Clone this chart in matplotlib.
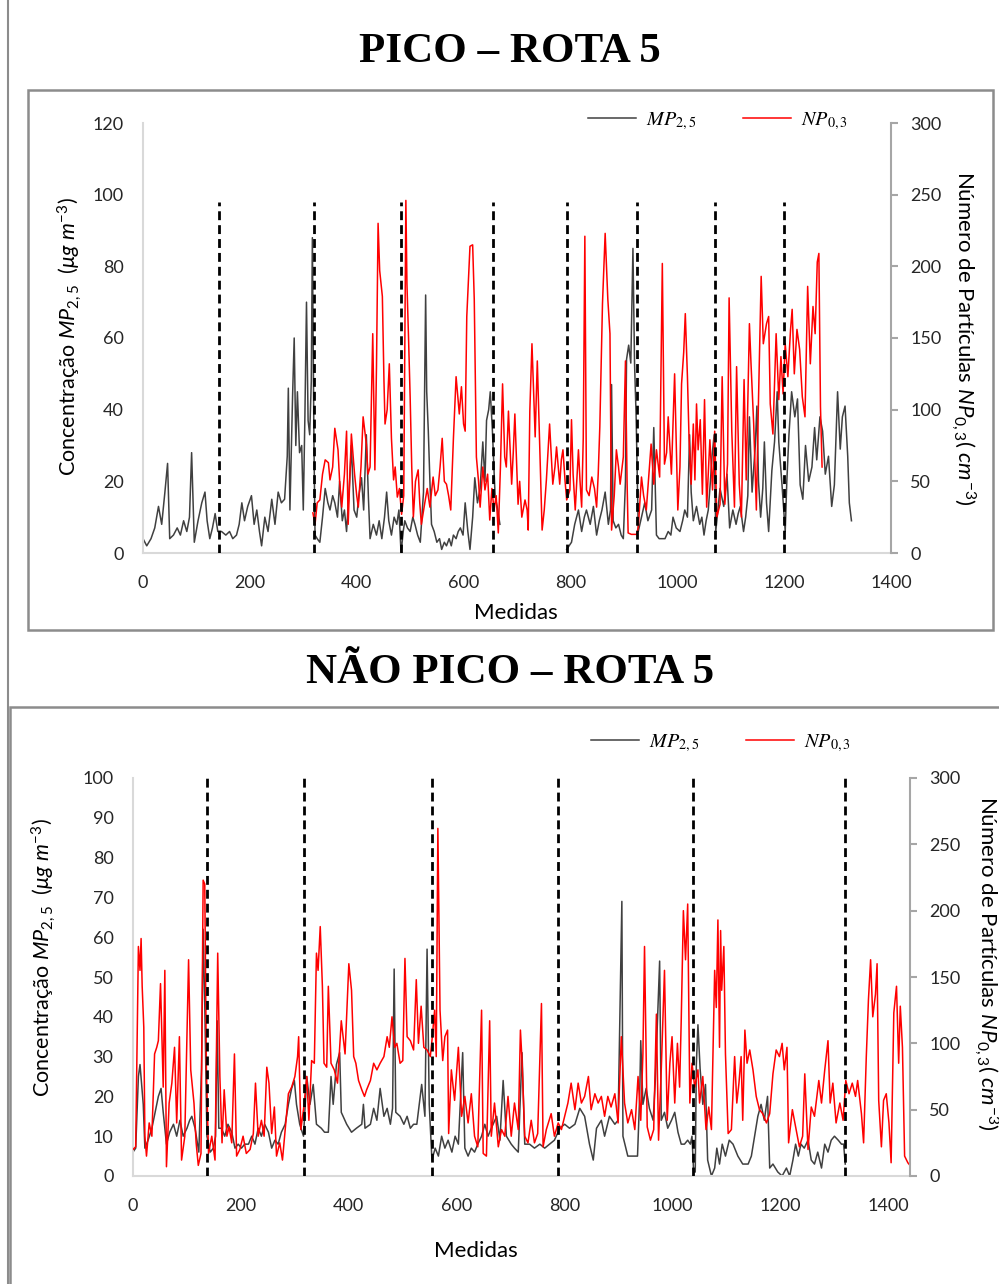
import numpy as np
import matplotlib
matplotlib.use('Agg')
import matplotlib.pyplot as plt
from matplotlib.lines import Line2D
from matplotlib.patches import Rectangle
from matplotlib.font_manager import FontProperties

plt.rcParams['font.family'] = ['Lato', 'DejaVu Sans']
plt.rcParams['mathtext.fontset'] = 'custom'
plt.rcParams['mathtext.rm'] = 'Lato'
plt.rcParams['mathtext.it'] = 'Lato:italic'
plt.rcParams['mathtext.bf'] = 'Lato:bold'

pico_mp = [
    (0, 4), (7, 2), (15, 4), (22, 7), (29, 13), (35, 8), (41, 17), (46, 25), (50, 4), (57, 5),
    (64, 7), (70, 5), (76, 9), (82, 6), (87, 10), (91, 28), (96, 3), (103, 9), (110, 14), (116, 17),
    (120, 9), (125, 4), (130, 7), (135, 11), (140, 6), (147, 6), (155, 5), (162, 6), (168, 4), (175, 5),
    (180, 8), (185, 14), (190, 9), (196, 13), (203, 16), (208, 8), (213, 12), (218, 6), (222, 2), (228, 10),
    (234, 6), (241, 15), (247, 8), (253, 17), (259, 14), (265, 15), (270, 27), (272, 46), (275, 12), (280, 44),
    (283, 60), (286, 30), (289, 45), (293, 28), (297, 30), (300, 12), (303, 38), (306, 70), (309, 37), (312, 33),
    (315, 48), (317, 88), (320, 30), (322, 5), (326, 4), (331, 3), (336, 10), (341, 18), (346, 14), (350, 12),
    (355, 16), (359, 14), (364, 10), (368, 20), (373, 9), (377, 12), (381, 6), (386, 18), (390, 30), (395, 12),
    (400, 10), (404, 16), (409, 21), (413, 12), (418, 33), (422, 15), (425, 4), (431, 8), (437, 5), (442, 9),
    (447, 4), (452, 10), (456, 17), (460, 9), (465, 5), (470, 10), (475, 8), (479, 12), (483, 0), (487, 6),
    (490, 9), (495, 7), (500, 6), (505, 10), (509, 8), (514, 5), (519, 3), (525, 17), (529, 72), (531, 45),
    (534, 34), (537, 20), (540, 8), (545, 6), (550, 3), (555, 4), (559, 1), (564, 3), (568, 2), (573, 4),
    (577, 2), (581, 5), (586, 4), (590, 6), (594, 7), (599, 5), (603, 14), (608, 6), (612, 1), (617, 10),
    (621, 21), (626, 14), (631, 18), (636, 31), (640, 20), (643, 37), (647, 40), (650, 45), (654, 34), (659, 16),
    (664, 12), (668, 8), (730, np.nan),
    (793, 1), (802, 3), (808, 8), (815, 12), (821, 6), (826, 10), (830, 12), (837, 8), (843, 13), (849, 5),
    (854, 9), (859, 12), (865, 17), (871, 8), (875, 12), (877, 47), (880, 9), (885, 7), (890, 8), (895, 5),
    (899, 4), (903, 20), (905, 54), (909, 58), (913, 53), (917, 85), (920, 53), (923, 38), (927, 6), (933, 10),
    (939, 14), (945, 9), (952, 12), (956, 35), (961, 5), (966, 4), (971, 4), (977, 4), (983, 6), (988, 5),
    (992, 10), (998, 7), (1005, 6), (1010, 9), (1014, 12), (1019, 10), (1023, 33), (1026, 17), (1030, 9), (1036, 13),
    (1042, 8), (1046, 10), (1050, 5), (1054, 9), (1058, 12), (1062, 20), (1065, 27), (1069, 33), (1072, 6), (1076, 12),
    (1080, 18), (1087, 13), (1093, 22), (1098, 7), (1104, 12), (1110, 8), (1114, 11), (1118, 13), (1124, 6), (1128, 10),
    (1132, 16), (1135, 38), (1140, 17), (1146, 30), (1149, 41), (1152, 20), (1156, 10), (1160, 18), (1163, 31), (1167, 14),
    (1171, 6), (1177, 23), (1182, 31), (1187, 45), (1190, 31), (1196, 19), (1202, 6), (1205, 20), (1209, 33), (1214, 45),
    (1220, 38), (1225, 43), (1230, 19), (1235, 15), (1240, 30), (1246, 20), (1252, 24), (1257, 35), (1261, 26), (1267, 38),
    (1272, 34), (1277, 22), (1283, 27), (1289, 13), (1294, 19), (1300, 45), (1305, 29), (1309, 38), (1314, 41), (1319, 27),
    (1322, 14), (1326, 9),
]
pico_np = [
    (318, 28), (322, 20), (326, 35), (331, 37), (336, 55), (341, 65), (347, 63), (350, 51), (355, 60), (359, 87),
    (365, 72), (368, 50), (372, 32), (377, 55), (381, 85), (384, 20), (390, 83), (396, 55), (400, 40), (403, 32),
    (408, 60), (412, 95), (418, 76), (421, 55), (425, 60), (430, 153), (434, 58), (437, 130), (440, 230), (443, 197),
    (448, 179), (451, 120), (453, 90), (457, 100), (461, 132), (465, 80), (469, 51), (472, 60), (476, 39), (480, 45),
    (484, 27), (488, 40), (492, 246), (494, 188), (497, 150), (500, 109), (503, 60), (506, 25), (510, 50), (515, 58),
    (518, 35), (521, 20), (527, 34), (532, 45), (537, 32), (543, 53), (547, 40), (552, 44), (556, 60), (560, 80),
    (564, 50), (568, 48), (572, 40), (576, 30), (581, 80), (586, 123), (592, 97), (596, 116), (600, 90), (603, 85),
    (606, 165), (612, 214), (617, 215), (620, 177), (624, 67), (628, 50), (631, 32), (636, 60), (640, 44), (645, 55),
    (649, 23), (653, 45), (657, 30), (661, 40), (665, 14), (669, 60), (673, 118), (677, 67), (680, 60), (684, 99),
    (690, 48), (693, 70), (696, 97), (702, 34), (705, 50), (709, 25), (715, 37), (719, 30), (721, 16), (724, 99),
    (728, 146), (734, 81), (738, 134), (743, 67), (747, 16), (751, 30), (755, 51), (761, 90), (767, 48), (771, 60),
    (774, 74), (780, 48), (783, 65), (786, 72), (790, 50), (793, 37), (799, 44), (802, 93), (805, 55), (809, 30),
    (815, 72), (818, 50), (821, 32), (824, 80), (827, 221), (830, 44), (835, 40), (840, 53), (845, 45), (849, 32),
    (852, 55), (855, 88), (860, 174), (865, 223), (870, 177), (874, 153), (877, 16), (882, 40), (886, 72), (890, 60),
    (893, 48), (899, 67), (903, 134), (906, 50), (908, 14), (914, 13), (919, 13), (924, 13), (927, 18), (933, 53),
    (937, 40), (942, 30), (946, 50), (951, 76), (956, 48), (961, 72), (967, 53), (972, 202), (976, 62), (980, 70),
    (983, 95), (989, 55), (995, 125), (1001, 30), (1005, 60), (1008, 118), (1012, 140), (1015, 167), (1019, 123), (1022, 80),
    (1026, 48), (1030, 90), (1033, 51), (1036, 104), (1039, 72), (1043, 93), (1047, 41), (1051, 107), (1055, 32), (1061, 79),
    (1066, 44), (1070, 85), (1074, 25), (1080, 34), (1084, 123), (1089, 34), (1094, 62), (1097, 178), (1102, 85), (1107, 32),
    (1111, 130), (1116, 48), (1120, 25), (1125, 121), (1129, 51), (1135, 160), (1138, 132), (1143, 90), (1148, 30), (1152, 107),
    (1157, 193), (1161, 146), (1167, 160), (1171, 165), (1174, 104), (1179, 83), (1185, 153), (1190, 107), (1194, 137), (1198, 111),
    (1202, 146), (1207, 123), (1212, 156), (1215, 170), (1219, 125), (1224, 156), (1229, 142), (1234, 109), (1239, 95), (1244, 186),
    (1249, 132), (1254, 172), (1258, 153), (1262, 203), (1265, 209), (1268, 102), (1271, 60),
]
pico_dash = [142, 320, 482, 656, 793, 925, 1071, 1199]

# ---- NAO PICO - ROTA 5 ----
nao_mp = [
    (0, 6), (5, 7), (10, 25), (13, 28), (16, 23), (19, 18), (22, 7), (28, 9), (35, 12), (41, 16),
    (47, 20), (52, 22), (56, 16), (62, 8), (68, 11), (75, 13), (81, 10), (87, 14), (93, 10), (100, 12),
    (105, 14), (109, 15), (115, 12), (122, 6), (127, 27), (130, 62), (133, 43), (137, 10), (143, 6), (149, 7),
    (153, 10), (156, 39), (159, 12), (164, 12), (170, 10), (176, 13), (183, 11), (189, 7), (195, 8), (201, 7),
    (207, 8), (214, 8), (220, 10), (226, 8), (232, 12), (238, 10), (244, 13), (251, 11), (257, 7), (263, 9),
    (269, 8), (275, 11), (282, 13), (288, 18), (294, 22), (299, 24), (303, 18), (309, 13), (316, 10), (322, 25),
    (328, 18), (334, 23), (340, 13), (349, 12), (355, 11), (362, 11), (367, 25), (371, 18), (377, 28), (383, 31),
    (386, 16), (396, 13), (405, 11), (414, 12), (424, 13), (427, 18), (430, 12), (440, 13), (446, 17), (452, 14),
    (458, 22), (465, 15), (471, 17), (477, 13), (481, 17), (484, 52), (487, 16), (495, 15), (502, 13), (508, 15),
    (514, 12), (520, 13), (526, 13), (535, 23), (541, 15), (545, 57), (549, 18), (554, 4), (560, 7), (566, 5),
    (572, 10), (578, 7), (584, 9), (591, 6), (597, 10), (603, 8), (611, 31), (615, 7), (621, 5), (627, 7),
    (633, 6), (639, 8), (646, 10), (652, 13), (658, 10), (664, 12), (674, 15), (680, 9), (686, 24), (692, 10),
    (701, 8), (707, 7), (714, 6), (721, 31), (726, 8), (735, 8), (744, 7), (754, 8), (763, 7), (772, 8),
    (781, 9), (791, 12), (800, 13), (809, 12), (819, 13), (828, 17), (837, 15), (846, 8), (853, 4), (859, 12),
    (868, 14), (874, 10), (883, 15), (893, 13), (899, 14), (906, 69), (908, 10), (917, 5), (927, 5), (935, 5),
    (939, 20), (941, 34), (945, 18), (951, 22), (957, 17), (964, 14), (968, 24), (972, 39), (976, 54), (979, 14),
    (985, 16), (991, 12), (998, 14), (1004, 16), (1010, 11), (1016, 8), (1022, 8), (1028, 9), (1033, 8), (1036, 10),
    (1039, 1), (1042, 1), (1044, 28), (1047, 38), (1051, 27), (1056, 18), (1061, 23), (1065, 4), (1072, 0), (1078, 2),
    (1082, 7), (1087, 3), (1092, 8), (1098, 5), (1105, 9), (1112, 8), (1121, 5), (1130, 3), (1140, 3), (1146, 5),
    (1152, 10), (1158, 15), (1164, 18), (1170, 14), (1176, 20), (1180, 2), (1186, 3), (1195, 1), (1203, 0), (1211, 2),
    (1217, 0), (1223, 4), (1228, 8), (1233, 5), (1238, 8), (1244, 7), (1251, 9), (1257, 4), (1263, 3), (1269, 6),
    (1276, 2), (1282, 8), (1288, 6), (1294, 9), (1300, 10), (1307, 9), (1313, 8), (1317, 8), (1320, 3),
]
nao_np = [
    (0, 20), (5, 22), (10, 173), (13, 155), (15, 179), (17, 143), (20, 112), (22, 30), (25, 15), (30, 40),
    (35, 30), (40, 92), (44, 97), (47, 102), (51, 145), (56, 67), (59, 155), (62, 7), (67, 55), (72, 70),
    (77, 97), (81, 40), (86, 105), (90, 12), (96, 30), (103, 163), (107, 80), (113, 55), (117, 25), (121, 8),
    (126, 17), (130, 223), (133, 220), (136, 80), (140, 17), (146, 30), (152, 12), (157, 168), (161, 75), (165, 25),
    (169, 65), (174, 30), (178, 37), (183, 25), (188, 92), (192, 15), (198, 20), (204, 30), (210, 17), (217, 20),
    (223, 32), (227, 70), (232, 30), (238, 42), (243, 30), (248, 82), (252, 70), (257, 32), (262, 52), (266, 15),
    (272, 25), (277, 12), (282, 35), (288, 62), (294, 67), (300, 75), (305, 90), (307, 105), (311, 35), (316, 50),
    (322, 75), (326, 42), (331, 87), (336, 85), (340, 168), (343, 155), (347, 188), (351, 143), (354, 85), (359, 82),
    (362, 143), (367, 85), (373, 80), (379, 70), (386, 117), (393, 92), (400, 160), (405, 140), (409, 90), (413, 85),
    (418, 72), (424, 65), (429, 60), (433, 65), (440, 72), (446, 85), (452, 80), (458, 85), (465, 90), (471, 105),
    (475, 97), (480, 120), (485, 97), (489, 100), (495, 85), (500, 87), (504, 164), (508, 105), (514, 102), (520, 95),
    (525, 148), (529, 100), (534, 128), (539, 97), (545, 95), (551, 90), (554, 102), (559, 125), (562, 90), (565, 262),
    (569, 125), (574, 87), (578, 105), (583, 110), (585, 32), (590, 80), (596, 57), (603, 97), (609, 45), (615, 60),
    (621, 40), (627, 62), (633, 30), (639, 22), (646, 125), (649, 17), (655, 15), (661, 117), (664, 30), (670, 55),
    (677, 22), (683, 35), (689, 30), (695, 60), (701, 30), (707, 55), (714, 35), (718, 110), (721, 87), (726, 30),
    (732, 25), (738, 42), (744, 25), (750, 32), (757, 130), (760, 22), (766, 35), (775, 47), (781, 30), (788, 40),
    (794, 35), (800, 45), (806, 55), (812, 70), (819, 50), (825, 70), (831, 55), (837, 60), (844, 75), (849, 50),
    (856, 62), (862, 55), (868, 60), (874, 45), (880, 60), (886, 52), (893, 62), (899, 40), (905, 105), (911, 55),
    (917, 40), (924, 50), (930, 35), (936, 75), (941, 42), (945, 92), (948, 173), (953, 37), (959, 27), (965, 35),
    (970, 122), (974, 27), (979, 80), (985, 155), (990, 42), (995, 85), (999, 105), (1004, 55), (1009, 100), (1013, 67),
    (1016, 117), (1020, 200), (1024, 163), (1028, 205), (1032, 55), (1036, 85), (1041, 67), (1047, 80), (1050, 55), (1056, 75),
    (1062, 35), (1067, 52), (1072, 35), (1078, 155), (1081, 127), (1084, 193), (1087, 97), (1089, 185), (1091, 140), (1095, 173),
    (1098, 92), (1103, 32), (1109, 35), (1115, 90), (1119, 55), (1123, 70), (1127, 90), (1130, 42), (1134, 110), (1138, 85),
    (1143, 95), (1149, 80), (1155, 60), (1161, 50), (1167, 47), (1174, 40), (1180, 47), (1186, 77), (1192, 95), (1198, 90),
    (1203, 100), (1207, 80), (1212, 97), (1215, 25), (1222, 50), (1229, 35), (1235, 22), (1241, 30), (1245, 77), (1251, 20),
    (1257, 52), (1263, 45), (1271, 72), (1276, 55), (1282, 80), (1288, 102), (1292, 55), (1297, 70), (1303, 40), (1310, 55),
    (1316, 42), (1321, 72), (1327, 62), (1333, 70), (1339, 60), (1343, 72), (1350, 47), (1354, 25), (1359, 90), (1363, 133),
    (1367, 163), (1371, 120), (1376, 137), (1379, 160), (1382, 57), (1387, 22), (1391, 57), (1396, 62), (1401, 40), (1405, 10),
    (1410, 123), (1415, 143), (1419, 85), (1422, 128), (1426, 97), (1430, 15), (1436, 10), (1440, 8),
]
nao_dash = [137, 317, 554, 788, 1038, 1320]

mp_label = r'Concentração $MP_{2,5}$  $(\mu g\ m^{-3})$'
np_label = r'Número de Partículas $NP_{0,3}$( $cm^{-3}$)'
legend_labels = [r'$MP_{2,5}$', r'$NP_{0,3}$']

W, H = 999, 1284
fig = plt.figure(figsize=(W / 100, H / 100), dpi=100)


def frac_rect(x0, y0, x1, y1):
    return [x0 / W, 1 - y1 / H, (x1 - x0) / W, (y1 - y0) / H]


def draw_panel(rect, mp, nparts, xmax, ymax, yticks, dashes, dash_top):
    mp = np.array(mp, dtype=float)
    nparts = np.array(nparts, dtype=float)
    ax = fig.add_axes(rect)
    ax2 = ax.twinx()
    ax.plot(mp[:, 0], mp[:, 1], color='#404040', lw=1.1)
    ax2.plot(nparts[:, 0], nparts[:, 1], color='#ff0000', lw=1.1)
    ax2.vlines(dashes, 0, dash_top, colors='black', linestyles=(0, (3.2, 1.8)),
               lw=2.0, transform=ax.transData, zorder=5)

    ax.set_xlim(0, xmax)
    ax.set_ylim(0, ymax)
    ax.set_xticks(range(0, 1401, 200))
    ax.set_yticks(yticks)
    ax2.set_ylim(0, 300)
    ax2.set_yticks(range(0, 301, 50))

    for s in ['top', 'right']:
        ax.spines[s].set_visible(False)
    for s in ['left', 'bottom']:
        ax.spines[s].set_color('#d9d9d9')
        ax.spines[s].set_linewidth(1.5)
    for s in ['top', 'left', 'bottom']:
        ax2.spines[s].set_visible(False)
    ax2.spines['right'].set_color('#a6a6a6')
    ax2.spines['right'].set_linewidth(1.5)

    ax.tick_params(axis='both', length=0, labelsize=13, colors='#262626')
    ax.tick_params(axis='x', pad=16)
    ax.tick_params(axis='y', pad=14)
    ax2.tick_params(axis='y', length=5, width=1.5, color='#a6a6a6',
                    labelsize=13, labelcolor='#262626', pad=9)
    return ax, ax2


def draw_legend(x, y):
    handles = [Line2D([], [], color='#404040', lw=1.1), Line2D([], [], color='#ff0000', lw=1.1)]
    fig.legend(handles, legend_labels, loc='center left',
               bbox_to_anchor=(x / W, 1 - y / H), ncol=2, frameon=False,
               handlelength=2.4, handletextpad=0.5, columnspacing=2.3,
               borderpad=0, borderaxespad=0,
               prop=FontProperties(family='DejaVu Serif', size=14.5, math_fontfamily='stix'))


# frames
gray = '#8c8c8c'
fig.add_artist(Line2D([8 / W, 8 / W], [0, 1], color=gray, lw=1.5))
fig.add_artist(Rectangle((28 / W, 1 - 630 / H), (993 - 28) / W, (630 - 90) / H,
                         fill=False, ec=gray, lw=1.8))
fig.add_artist(Rectangle((10 / W, -0.05), 1.0, 1 - 707 / H + 0.05,
                         fill=False, ec=gray, lw=1.8))

# top panel
draw_panel(frac_rect(143, 123, 891, 553), pico_mp, pico_np, 1400, 120,
           range(0, 121, 20), pico_dash, 98)
draw_legend(588, 121)
fig.text(510 / W, 1 - 52 / H, 'PICO – ROTA 5', ha='center', va='center',
         family='Liberation Serif', weight='bold', size=31)
fig.text(70 / W, 1 - 337 / H, mp_label, rotation=90, ha='center', va='center', size=15.5)
fig.text(963 / W, 1 - 338 / H, np_label, rotation=-90, ha='center', va='center', size=16)
fig.text(516 / W, 1 - 613 / H, 'Medidas', ha='center', va='center', size=16)

# bottom panel
draw_panel(frac_rect(133, 778, 910, 1176), nao_mp, nao_np, 1440, 100,
           range(0, 101, 10), nao_dash, 100)
draw_legend(591, 743)
fig.text(510 / W, 1 - 673 / H, 'NÃO PICO – ROTA 5', ha='center', va='center',
         family='Liberation Serif', weight='bold', size=31)
fig.text(44 / W, 1 - 958 / H, mp_label, rotation=90, ha='center', va='center', size=15.5)
fig.text(986 / W, 1 - 963 / H, np_label, rotation=-90, ha='center', va='center', size=16)
fig.text(476 / W, 1 - 1251 / H, 'Medidas', ha='center', va='center', size=16)

fig.savefig('out.png', dpi=100)
